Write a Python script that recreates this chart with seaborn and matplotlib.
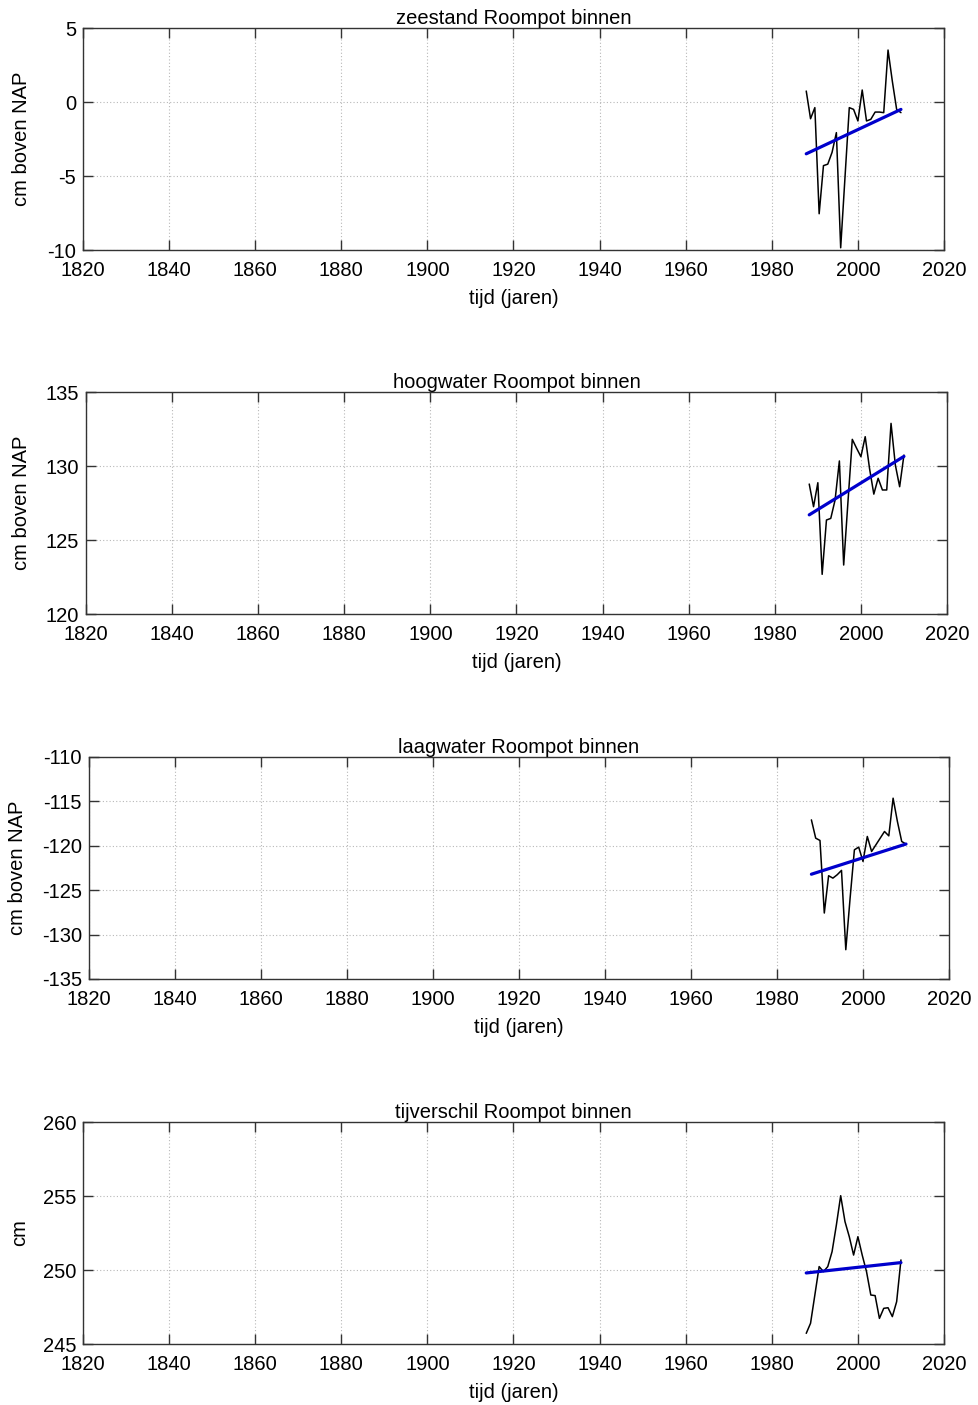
import numpy as np
import pandas as pd
import matplotlib
matplotlib.use("Agg")
import matplotlib.pyplot as plt
import seaborn as sns

years = list(range(1988, 2011))

zeestand = [0.74, -1.13, -0.38, -7.55, -4.3, -4.2, -3.4, -2.07, -9.85, -5.1,
            -0.38, -0.5, -1.28, 0.81, -1.28, -1.17, -0.68, -0.68, -0.72, 3.51,
            1.4, -0.5, -0.72]
hoogwater = [128.78, 127.25, 128.87, 122.68, 126.35, 126.46, 127.7, 130.34, 123.31, 127.6,
             131.8, 131.2, 130.63, 131.98, 129.84, 128.1, 129.17, 128.38, 128.38, 132.88,
             130.07, 128.6, 130.74]
laagwater = [-117.08, -119.14, -119.4, -127.57, -123.37, -123.64, -123.26, -122.77, -131.7, -125.9,
             -120.45, -120.15, -121.76, -118.95, -120.64, -119.89, -119.14, -118.39, -118.88, -114.64,
             -117.26, -119.51, -119.81]
tijverschil = [245.72, 246.4, 248.31, 250.23, 249.89, 250.23, 251.24, 253.04, 255.02, 253.27,
               252.25, 251.01, 252.25, 251.01, 249.89, 248.31, 248.27, 246.73, 247.41, 247.45,
               246.85, 247.86, 250.68]

# trend lines (start 1988, end 2010)
trend_years = [1988, 2010]
trend_zeestand = [-3.5, -0.5]
trend_hoogwater = [126.7, 130.65]
trend_laagwater = [-123.2, -119.8]
trend_tijverschil = [249.8, 250.5]

titles = ["zeestand Roompot binnen", "hoogwater Roompot binnen",
          "laagwater Roompot binnen", "tijverschil Roompot binnen"]
ylabels = ["cm boven NAP", "cm boven NAP", "cm boven NAP", "cm"]
ylims = [(-10, 5), (120, 135), (-135, -110), (245, 260)]
yticks = [[-10, -5, 0, 5], [120, 125, 130, 135],
          [-135, -130, -125, -120, -115, -110], [245, 250, 255, 260]]
xticks = list(range(1820, 2021, 20))
xlabel = "tijd (jaren)"
series = [zeestand, hoogwater, laagwater, tijverschil]
trends = [trend_zeestand, trend_hoogwater, trend_laagwater, trend_tijverschil]

sns.set_style("white")
plt.rcParams['font.family'] = ['Liberation Sans', 'DejaVu Sans']
plt.rcParams['axes.unicode_minus'] = False
plt.rcParams['text.color'] = 'black'
plt.rcParams['axes.labelcolor'] = 'black'

W, H = 979, 1405
fig = plt.figure(figsize=(W / 100, H / 100), dpi=100)

# (left, top, right, bottom) in pixels; ylabel x center in px
boxes = [(83, 28, 944, 250, 22), (86, 392, 947, 614, 22),
         (89, 757, 949, 979, 18), (83, 1122, 944, 1344, 20)]

for i, (l, t, r, b, ylx) in enumerate(boxes):
    ax = fig.add_axes([l / W, 1 - b / H, (r - l) / W, (b - t) / H])
    df = pd.DataFrame({"jaar": years, "waarde": series[i]})
    sns.lineplot(data=df, x="jaar", y="waarde", ax=ax, color="black", lw=1.1)
    tr = pd.DataFrame({"jaar": trend_years, "waarde": trends[i]})
    sns.lineplot(data=tr, x="jaar", y="waarde", ax=ax, color="#0000cc", lw=2.3)
    ax.set_xlim(1820, 2020)
    ax.set_ylim(*ylims[i])
    ax.set_xticks(xticks)
    ax.set_yticks(yticks[i])
    ax.grid(True, color="#b8b8b8", linestyle=(0, (1, 2)), lw=0.8)
    ax.tick_params(direction="in", length=7, width=1, colors="#333333",
                   labelcolor="black", labelsize=14.5, top=True, right=True,
                   bottom=True, left=True)
    ax.tick_params(axis="x", pad=8)
    ax.tick_params(axis="y", pad=5)
    for s in ax.spines.values():
        s.set_color("#333333")
        s.set_linewidth(1.0)
    ax.set_title(titles[i], fontsize=14.5, pad=3, color="black")
    ax.set_xlabel(xlabel, fontsize=14.5, color="black")
    ax.set_ylabel(ylabels[i], fontsize=14.5, color="black")
    ax.xaxis.set_label_coords(0.5, -39 / (b - t))
    ax.yaxis.set_label_coords((ylx + 9 - l) / (r - l), 0.5)

fig.savefig("out.png", dpi=100)
